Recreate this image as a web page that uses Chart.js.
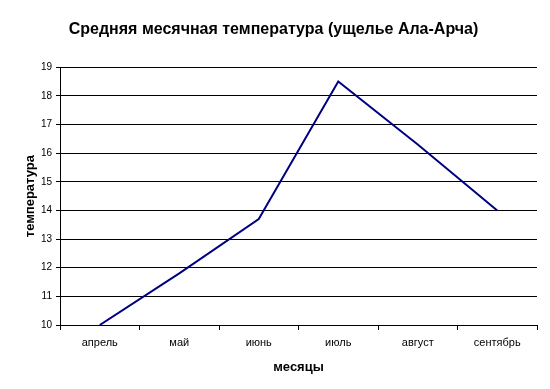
<!DOCTYPE html>
<html>
<head>
<meta charset="utf-8">
<script src="https://cdn.jsdelivr.net/npm/chart.js@4/dist/chart.umd.min.js"></script>
<style>
    body { margin: 0; background: #fff; }
    #wrap { width: 550px; height: 389px; }
</style>
</head>
<body>
<div id="wrap"><canvas id="tempChart" width="550" height="389"></canvas></div>
<script>
// данные графика
const months = ['апрель', 'май', 'июнь', 'июль', 'август', 'сентябрь'];
const temps = [10.0, 11.8, 13.7, 18.5, 16.3, 14.0];
const yMin = 10;
const yMax = 19;

const ctx = document.getElementById('tempChart').getContext('2d');
const font = "'Liberation Sans', Arial, sans-serif";

const tempChart = new Chart(ctx, {
    type: 'line',
    data: {
        labels: months,
        datasets: [
            {
                label: 'температура',
                data: temps,
                borderColor: '#000080',
                borderWidth: 2,
                pointRadius: 0,
                tension: 0,
                fill: false
            }
        ]
    },
    options: {
        responsive: false,
        animation: false,
        layout: {
            padding: { left: 10, right: 13, top: 0, bottom: 14 }
        },
        scales: {
            x: {
                offset: true,
                grid: {
                    offset: true,
                    drawOnChartArea: false,
                    drawTicks: true,
                    tickLength: 5,
                    color: '#000'
                },
                border: { color: '#000', width: 1 },
                ticks: {
                    color: '#000',
                    font: { family: font, size: 11 },
                    padding: 6,
                    maxRotation: 0
                },
                title: {
                    display: true,
                    text: 'месяцы',
                    color: '#000',
                    font: { family: font, size: 13, weight: 'bold' },
                    padding: { top: 3, bottom: 0 }
                },
                afterFit: function (scale) { scale.height = 50; }
            },
            y: {
                min: yMin,
                max: yMax,
                grid: {
                    color: '#000',
                    tickLength: 4
                },
                border: { color: '#000', width: 1 },
                ticks: {
                    stepSize: 1,
                    color: '#000',
                    font: { family: font, size: 10 },
                    padding: 4
                },
                title: {
                    display: true,
                    text: 'температура',
                    color: '#000',
                    font: { family: font, size: 13, weight: 'bold' },
                    padding: { top: 13, bottom: 4 }
                },
                afterFit: function (scale) { scale.width = 50; }
            }
        },
        plugins: {
            legend: { display: false },
            tooltip: { enabled: false },
            title: {
                display: true,
                text: 'Средняя месячная температура (ущелье Ала-Арча)',
                color: '#000',
                font: { family: font, size: 16, weight: 'bold' },
                padding: { top: 20, bottom: 28 }
            }
        }
    }
});
</script>
</body>
</html>
